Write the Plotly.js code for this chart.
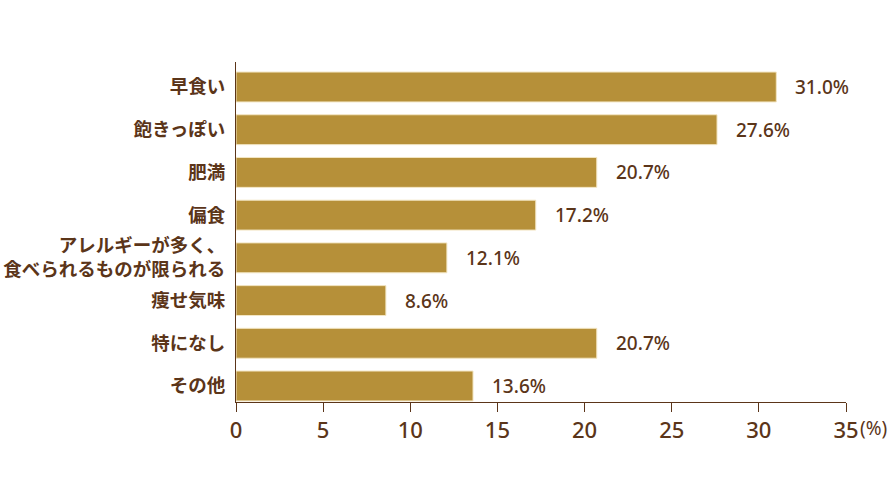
<!DOCTYPE html>
<html><head><meta charset="utf-8">
<script src="https://cdn.plot.ly/plotly-3.0.1.min.js"></script>
<style>body{margin:0;background:#fff}</style>
</head><body>
<div id="chart" style="width:890px;height:500px"></div>
<script>
const categories = ["早食い","飽きっぽい","肥満","偏食","アレルギーが多く、<br>食べられるものが限られる","痩せ気味","特になし","その他"];
const values = [31.0, 27.6, 20.7, 17.2, 12.1, 8.6, 20.7, 13.6];
const valueLabels = ["31.0%","27.6%","20.7%","17.2%","12.1%","8.6%","20.7%","13.6%"];
const tickVals = [0,5,10,15,20,25,30,35];
const tickText = ["0","5","10","15","20","25","30","35"];

const brown = "#5b3519";
const numFont = "'Noto Sans', sans-serif";

const trace = {
  type: "bar", orientation: "h",
  x: values, y: categories,
  marker: {color: "#b69039", line: {color: "#f3e6c4", width: 1}},
  hoverinfo: "none"
};

const annotations = values.map((v, i) => ({
  x: v, y: categories[i], xref: "x", yref: "y",
  text: valueLabels[i], showarrow: false, xanchor: "left", yanchor: "middle",
  xshift: 17, font: {family: numFont, size: 19, color: brown, weight: 500}
}));
annotations.push({
  x: 1, y: 0, xref: "paper", yref: "paper", text: "(%)", showarrow: false,
  xanchor: "left", yanchor: "top", xshift: 12, yshift: -11,
  font: {family: numFont, size: 19, color: brown}
});

const layout = {
  width: 890, height: 500,
  margin: {l: 236, r: 44, t: 62, b: 98},
  paper_bgcolor: "#fff", plot_bgcolor: "#fff",
  bargap: 0.3,
  showlegend: false,
  xaxis: {
    range: [0, 35], tickvals: tickVals, ticktext: tickText,
    showgrid: false, zeroline: false,
    showline: true, linecolor: brown, linewidth: 1,
    ticks: "outside", ticklen: 9, tickcolor: brown, tickwidth: 1,
    tickfont: {family: numFont, size: 22, color: brown, weight: 500},
    side: "bottom"
  },
  yaxis: {
    range: [7.375, -0.585], showgrid: false, zeroline: false,
    showline: true, linecolor: brown, linewidth: 1,
    ticks: "", ticklabelstandoff: 6,
    tickfont: {family: "'Noto Sans CJK JP', sans-serif", size: 18.5, color: brown, weight: 700}
  },
  annotations: annotations
};

Plotly.newPlot("chart", [trace], layout, {displayModeBar: false, staticPlot: true});
</script>
</body></html>
